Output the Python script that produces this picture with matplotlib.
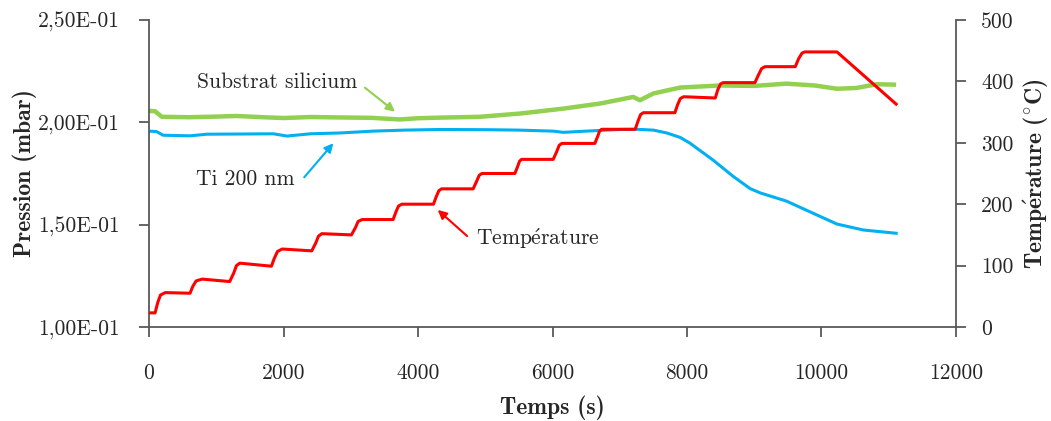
import matplotlib
matplotlib.use("Agg")
import matplotlib.pyplot as plt
from matplotlib.ticker import FuncFormatter, FixedLocator

plt.rcParams['font.family'] = ['cmr10', 'DejaVu Serif']
plt.rcParams['mathtext.fontset'] = 'cm'
plt.rcParams['axes.unicode_minus'] = False

# ---- data ----
time_temp = [0, 90, 130, 170, 240, 610, 650, 700, 790, 1200, 1260, 1300, 1350, 1820,
             1860, 1910, 1980, 2420, 2480, 2520, 2570, 3010, 3070, 3110, 3170, 3630,
             3670, 3710, 3760, 4230, 4270, 4310, 4350, 4820, 4870, 4910, 4950, 5440,
             5480, 5510, 5540, 6010, 6060, 6100, 6140, 6630, 6670, 6700, 6730, 7230,
             7270, 7310, 7350, 7820, 7860, 7900, 7950, 8420, 8460, 8500, 8540, 9010,
             9060, 9110, 9160, 9610, 9660, 9710, 9750, 10230, 11110]
temperature = [23, 23, 40, 52, 56, 55, 66, 75, 78, 74, 88, 100, 104, 99,
               111, 123, 127, 124, 137, 148, 152, 150, 162, 172, 175, 175,
               187, 197, 200, 200, 212, 222, 225, 225, 237, 247, 250, 250,
               261, 270, 273, 273, 285, 296, 299, 299, 310, 319, 322, 322,
               335, 346, 349, 349, 362, 372, 375, 373, 387, 396, 398, 398,
               410, 421, 424, 424, 437, 446, 448, 448, 363]

time_si = [0, 90, 190, 600, 1000, 1300, 1700, 2000, 2400, 2800, 3300, 3730, 4000,
           4330, 4920, 5520, 6160, 6710, 7200, 7300, 7500, 7900, 8490, 9000, 9480,
           9900, 10230, 10520, 10820, 11110]
p_si = [0.2056, 0.2054, 0.2027, 0.2025, 0.2028, 0.2031, 0.2025, 0.2021, 0.2026,
        0.2024, 0.2022, 0.2014, 0.2020, 0.2023, 0.2027, 0.2043, 0.2067, 0.2092,
        0.2124, 0.2108, 0.2141, 0.2170, 0.2180, 0.2178, 0.2189, 0.2180, 0.2164,
        0.2168, 0.2186, 0.2184]

time_ti = [0, 110, 210, 610, 860, 1400, 1850, 2050, 2400, 2840, 3330, 3800, 4330,
           5020, 5500, 6010, 6160, 6500, 7000, 7250, 7500, 7700, 7900, 8045, 8390,
           8690, 8940, 9090, 9480, 9880, 10230, 10620, 11110]
p_ti = [0.1957, 0.1955, 0.1937, 0.1934, 0.1942, 0.1943, 0.1944, 0.1933, 0.1944,
        0.1948, 0.1957, 0.1962, 0.1965, 0.1964, 0.1962, 0.1957, 0.1951, 0.1957,
        0.1965, 0.1966, 0.1962, 0.1948, 0.1926, 0.1898, 0.1815, 0.1735, 0.1676,
        0.1655, 0.1615, 0.1555, 0.1503, 0.1474, 0.1458]

x_ticks = [0, 2000, 4000, 6000, 8000, 10000, 12000]
p_ticks = [0.10, 0.15, 0.20, 0.25]
t_ticks = [0, 100, 200, 300, 400, 500]

# ---- figure ----
fig = plt.figure(figsize=(10.51, 4.21), dpi=100)
ax = fig.add_axes([0.1418, 0.2233, 0.9096 - 0.1418, 0.9525 - 0.2233])
ax2 = ax.twinx()

green = '#92D050'
blue = '#00B0F0'
red = '#FF0000'
spc = '#595959'
txt = '#262626'

ax.plot(time_si, p_si, color=green, lw=3.2, solid_capstyle='butt')
ax.plot(time_ti, p_ti, color=blue, lw=2.2)
ax2.plot(time_temp, temperature, color=red, lw=2.2)

ax.set_xlim(0, 12000)
ax.set_ylim(0.10, 0.25)
ax2.set_ylim(0, 500)

ax.xaxis.set_major_locator(FixedLocator(x_ticks))
ax.yaxis.set_major_locator(FixedLocator(p_ticks))
ax2.yaxis.set_major_locator(FixedLocator(t_ticks))
ax.yaxis.set_major_formatter(FuncFormatter(lambda v, p: f"{v:.2E}".replace('.', ',')))

for a in (ax, ax2):
    a.spines['top'].set_visible(False)
    for s in a.spines.values():
        s.set_color(spc)
        s.set_linewidth(1.3)
ax.spines['right'].set_visible(False)
ax2.spines['left'].set_visible(False)
ax2.spines['bottom'].set_visible(False)

ax.tick_params(axis='x', direction='out', length=7, width=1.3, color=spc,
               labelsize=15.5, labelcolor=txt, pad=19)
ax.tick_params(axis='y', direction='out', length=7, width=1.3, color=spc,
               labelsize=15.5, labelcolor=txt, pad=14)
ax2.tick_params(axis='y', direction='out', length=7, width=1.3, color=spc,
                labelsize=15.5, labelcolor=txt, pad=11)

ax.set_xlabel('Temps (s)', fontfamily='cmb10', fontsize=17, color=txt, va='center')
ax.set_ylabel('Pression (mbar)', fontfamily='cmb10', fontsize=17, color=txt,
              va='center', ha='center')
ax2.set_ylabel(r'Temp$\mathbf{\acute{e}}$rature ($\mathbf{^{\circ}}$C)',
               fontfamily='cmb10', fontsize=17, color=txt, rotation=90,
               va='center', ha='center')
ax.xaxis.set_label_coords(0.5, -0.264)
ax.yaxis.set_label_coords(-0.1537, 0.5)
ax2.yaxis.set_label_coords(1.098, 0.5)

# ---- annotations ----
ax.annotate('Substrat silicium', xy=(3658, 0.2052), xytext=(1899, 0.2198),
            ha='center', va='center', fontsize=15.5, color=txt,
            arrowprops=dict(arrowstyle='-|>', color=green, lw=1.5,
                            mutation_scale=13, shrinkA=0, shrinkB=0,
                            relpos=(1.05, 0.2)))
ax.annotate('Ti 200 nm', xy=(2741, 0.1898), xytext=(1428, 0.1722),
            ha='center', va='center', fontsize=15.5, color=txt,
            arrowprops=dict(arrowstyle='-|>', color=blue, lw=1.5,
                            mutation_scale=13, shrinkA=0, shrinkB=0,
                            relpos=(1.1, 0.6)))
ax.annotate(r'Temp$\mathrm{\acute{e}}$rature', xy=(4293, 0.1572), xytext=(5777, 0.1432),
            ha='center', va='center', fontsize=15.5, color=txt,
            arrowprops=dict(arrowstyle='-|>', color=red, lw=1.5,
                            mutation_scale=13, shrinkA=0, shrinkB=0,
                            relpos=(-0.07, 0.6)))

fig.savefig('out.png', dpi=100)
